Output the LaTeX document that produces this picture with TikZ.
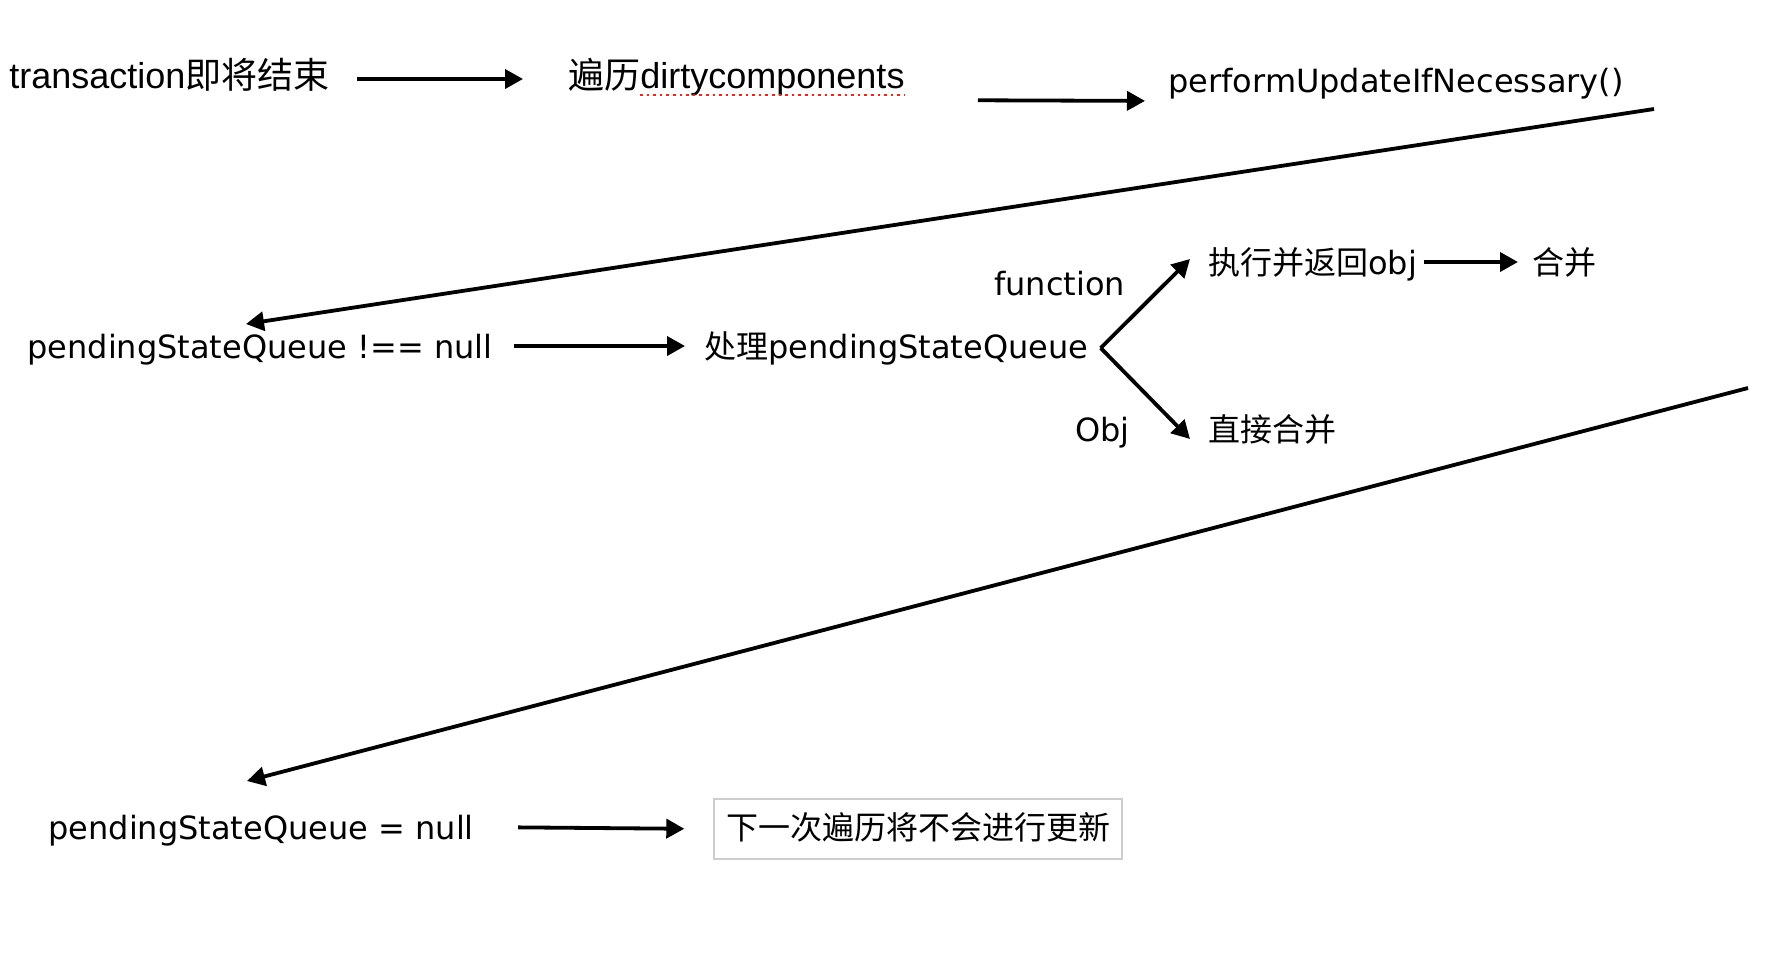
\documentclass[tikz,border=0pt]{standalone}
\usepackage{fontspec}
\setmainfont{DejaVu Sans}
\newfontfamily\cjk{Noto Sans CJK SC}
\newfontfamily\arialfont{Liberation Sans}
\usetikzlibrary{arrows.meta}
\definecolor{boxgray}{RGB}{205, 205, 205}
\definecolor{spellred}{RGB}{230, 40, 30}

\tikzset{
  lbl/.style={anchor=west, inner sep=0pt, font=\fontsize{16}{19}\selectfont, text height=16pt, text depth=4pt},
  toplbl/.style={lbl, font=\arialfont\fontsize{18}{21}\selectfont, text height=13.5pt, text depth=4.5pt},
  arr/.style={->, line width=1.9pt},
  spell/.style={spellred, dotted, line width=1.3pt},
  endbox/.style={draw=boxgray, line width=0.7pt, inner xsep=6pt, inner ysep=7pt, text height=13pt, text depth=3pt, font=\cjk\fontsize{16}{19}\selectfont}
}

\begin{document}
\begin{tikzpicture}[x=0.5pt, y=-0.5pt, >={Triangle[length=9pt, width=9.5pt]}]
    \useasboundingbox (0,0) rectangle (1774,960);
    \node[toplbl] (trans) at (9,79) {transaction{\cjk 即将结束}};
    \node[toplbl] (dirty) at (568,79) {{\cjk 遍历}dirtycomponents};
    \node[lbl] (perf) at (1168,80) {performUpdateIfNecessary()};
    \node[lbl] (pend) at (27,346) {pendingStateQueue !== null};
    \node[lbl] (proc) at (704,346) {{\cjk 处理}pendingStateQueue};
    \node[lbl] (fn) at (994,283) {function};
    \node[lbl] (obj) at (1075,429) {Obj};
    \node[lbl] (exec) at (1208,262) {{\cjk 执行并返回}obj};
    \node[lbl] (merge) at (1532,262) {\cjk 合并};
    \node[lbl] (direct) at (1208,429) {\cjk 直接合并};
    \node[lbl] (clear) at (48,827) {pendingStateQueue = null};
    \node[endbox] (next) at (918,829) {下一次遍历将不会进行更新};
    \coordinate (fork) at ([shift={(12,2)}]proc.east);
    \coordinate (ret1) at (1654,109);
    \coordinate (ret2) at (1748,388);
    \draw[arr, shorten <=13.5pt, shorten >=22.5pt] (trans.east) -- (dirty.west);
    \draw[spell] ([shift={(72,16)}]dirty.west) -- ([yshift=-8pt]dirty.east);
    \draw[arr, shorten <=36.5pt, shorten >=11.5pt] ([yshift=-10.5pt]dirty.east) -- ([yshift=-10.5pt]perf.west);
    \draw[arr] (ret1) -- ([shift={(219,-22)}]pend.west);
    \draw[arr, shorten <=10.5pt, shorten >=9.5pt] (pend.east) -- (proc.west);
    \draw[arr] (fork) -- ([shift={(-18,-3)}]exec.west);
    \draw[arr] (fork) -- ([shift={(-18,10)}]direct.west);
    \draw[arr, shorten <=3pt, shorten >=7pt] (exec.east) -- (merge.west);
    \draw[arr] (ret2) -- ([shift={(199,-46)}]clear.west);
    \draw[arr, shorten <=22pt, shorten >=14.5pt] (clear.east) -- (next.west);
\end{tikzpicture}
\end{document}
